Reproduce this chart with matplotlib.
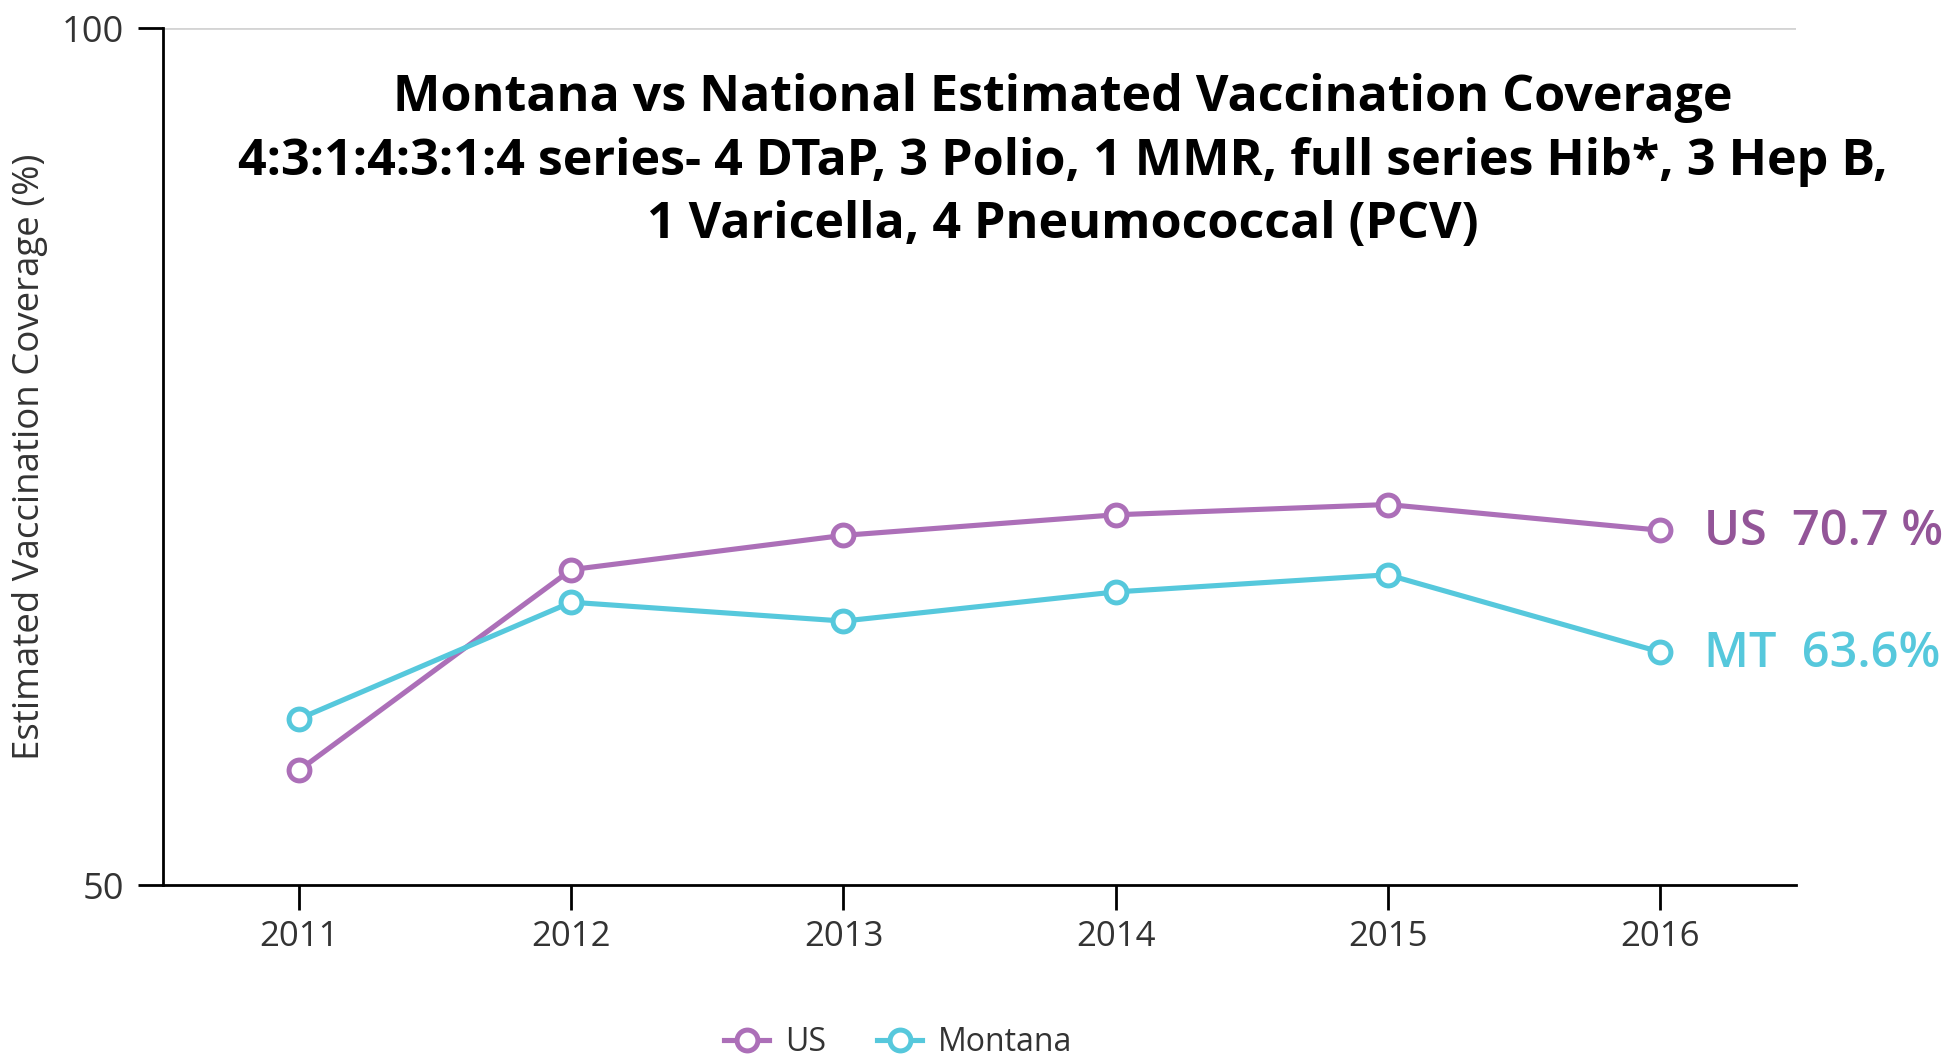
import matplotlib
matplotlib.use('Agg')
import matplotlib.pyplot as plt

plt.rcParams['font.family'] = ['Open Sans', 'DejaVu Sans']

years = [2011, 2012, 2013, 2014, 2015, 2016]
us = [56.7, 68.4, 70.4, 71.6, 72.2, 70.7]
mt = [59.7, 66.5, 65.4, 67.1, 68.1, 63.6]
us_label = 'US  70.7 %'
mt_label = 'MT  63.6%'
title = ('Montana vs National Estimated Vaccination Coverage\n'
         '4:3:1:4:3:1:4 series- 4 DTaP, 3 Polio, 1 MMR, full series Hib*, 3 Hep B,\n'
         '1 Varicella, 4 Pneumococcal (PCV)')

us_color = '#ac6fb8'
mt_color = '#56c8dc'
text_color = '#333333'

fig = plt.figure(figsize=(19.53, 10.57), dpi=100)
ax = fig.add_axes([0.0835, 0.1627, 0.8361, 0.8108])

ax.plot(years, us, color=us_color, lw=3.7, marker='o', ms=15, mew=3.6,
        mfc='white', mec=us_color, label='US', zorder=3)
ax.plot(years, mt, color=mt_color, lw=3.7, marker='o', ms=15, mew=3.6,
        mfc='white', mec=mt_color, label='Montana', zorder=3)

# end-of-line labels
t_us = ax.annotate(us_label, (years[-1], us[-1]), xytext=(32, -2), textcoords='offset points',
                   va='center', ha='left', fontsize=34, fontweight='semibold', color='#935598')
t_mt = ax.annotate(mt_label, (years[-1], mt[-1]), xytext=(32, -2), textcoords='offset points',
                   va='center', ha='left', fontsize=34, fontweight='semibold', color=mt_color)

ax.set_xlim(2010.5, 2016.5)
ax.set_ylim(50, 100)
ax.set_xticks(years)
ax.set_yticks([50, 100])
ax.tick_params(axis='both', length=18, width=2, colors='black', labelcolor=text_color,
               labelsize=25, pad=7)
ax.tick_params(axis='y', pad=10, labelsize=26)

for s in ['top', 'right']:
    ax.spines[s].set_visible(False)
for s in ['left', 'bottom']:
    ax.spines[s].set_linewidth(2)
ax.axhline(100, color='#d4d4d4', lw=2, zorder=1)

t_ylab = fig.text(30 / 1953, 0.568, 'Estimated Vaccination Coverage (%)', rotation=90,
                  ha='center', va='center', fontsize=25, color=text_color)

t_title = fig.text(0.544, 0.847, title, ha='center', va='center', fontsize=35,
                   fontweight='bold', color='black', linespacing=1.36)

fig.legend(loc='center', bbox_to_anchor=(0.46, 0.014), ncol=2, frameon=False,
           fontsize=23, handlelength=1.4, handletextpad=0.5, columnspacing=1.6,
           labelcolor=text_color)

# scale a few texts so their size matches the original layout (pixels)
fig.canvas.draw()
r = fig.canvas.get_renderer()
for t, target, dim in [(t_title, 1651, 'w'), (t_ylab, 607, 'h'),
                       (t_us, 240, 'w'), (t_mt, 236, 'w')]:
    bb = t.get_window_extent(r)
    cur = bb.width if dim == 'w' else bb.height
    t.set_fontsize(t.get_fontsize() * target / cur)

fig.savefig('out.png', dpi=100, facecolor='white')
